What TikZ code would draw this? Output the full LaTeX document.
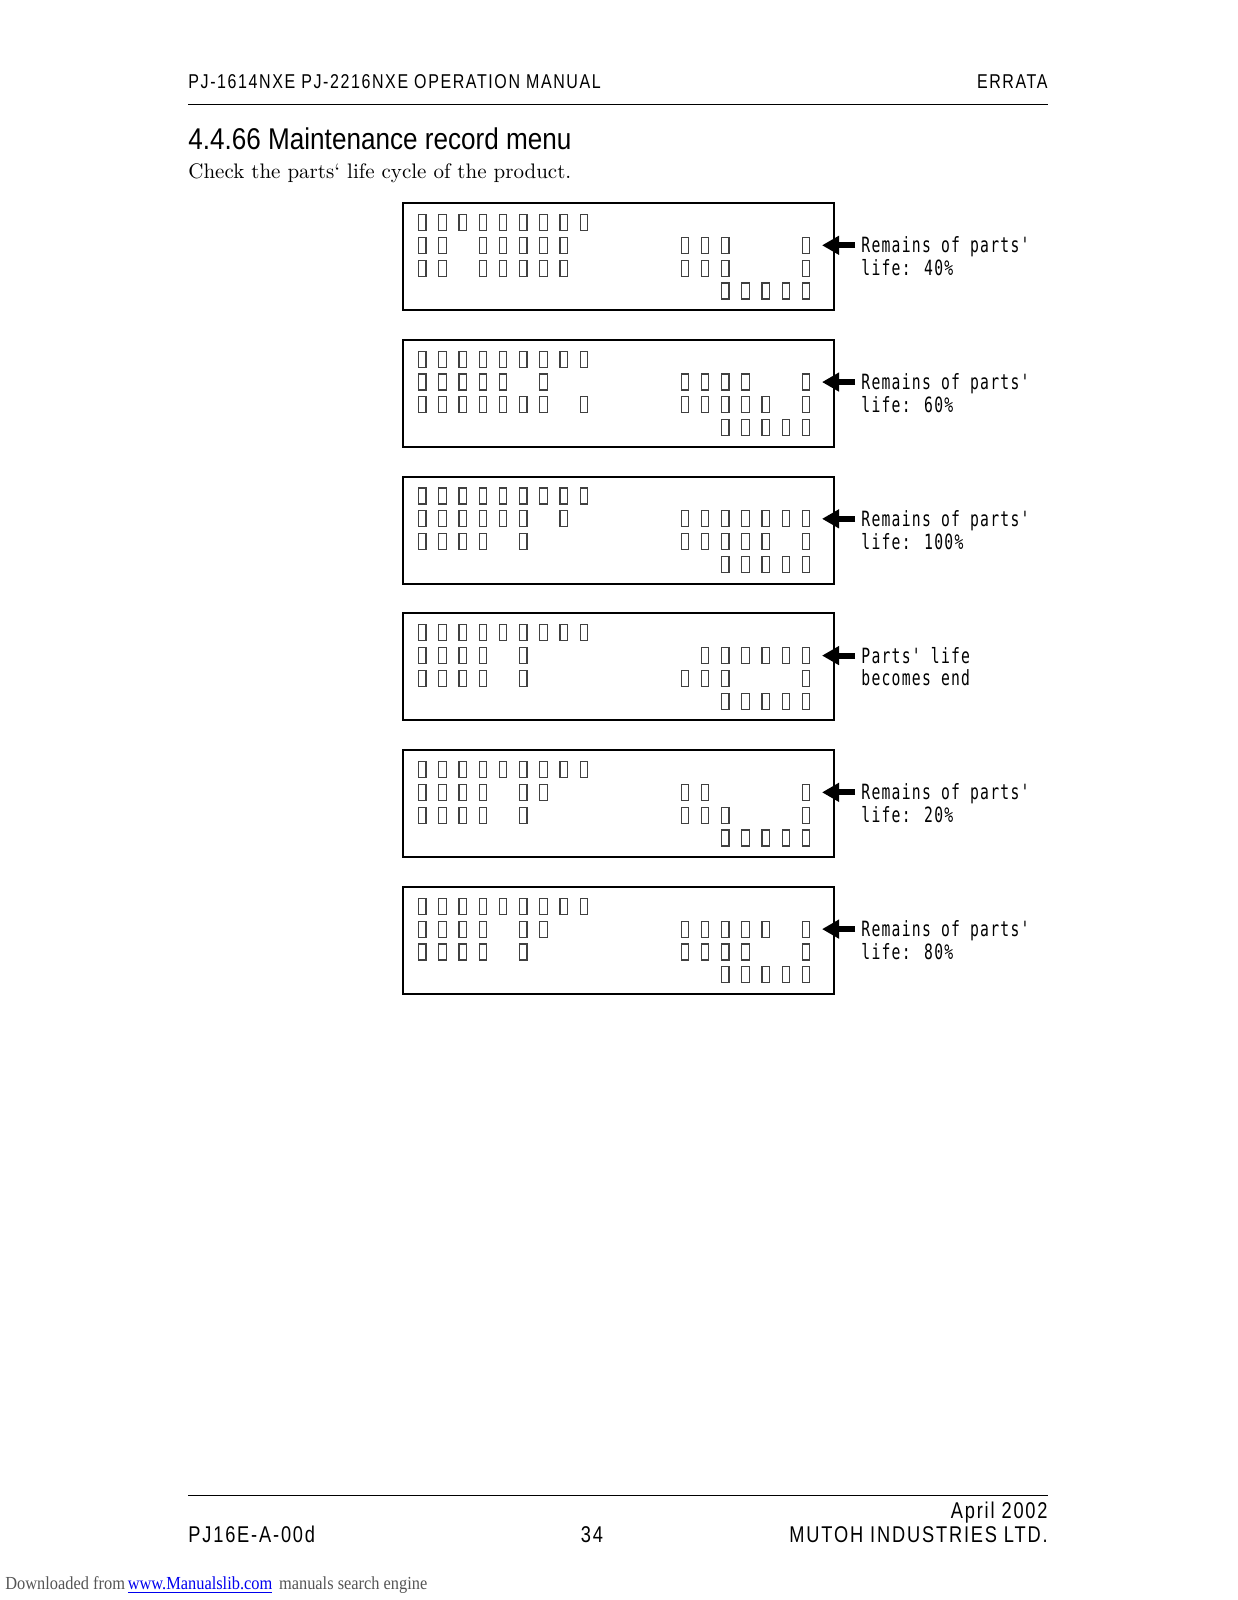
\documentclass[tikz,border=0pt]{standalone}
\usepackage{fontspec}
\usepackage{xcolor}
\usepackage{tikz}
\usetikzlibrary{positioning, arrows.meta, calc}
\newfontfamily\manfont[FakeStretch=0.8,LetterSpace=8]{Liberation Sans}
\newfontfamily\headfont[FakeStretch=0.87]{Liberation Sans}
\newfontfamily\lcdfont[FakeStretch=0.7,LetterSpace=6]{DejaVu Sans Mono}
\newfontfamily\dlfont[FakeStretch=0.89]{Liberation Serif}
\definecolor{linkBlue}{HTML}{0000EE}
\definecolor{dlGray}{HTML}{555555}
% one row of an LCD screen: #1 screen, #2 row, #3 columns holding a glyph
\newcommand{\lcdrow}[3]{%
  \foreach \c in {#3}
    \draw[cell] ($(scr#1.north west)+({16.5+20.2*\c},{12.5+22.8*#2})$) rectangle +(7.5,16);}

\begin{document}
\begin{tikzpicture}[x=0.5pt, y=-0.5pt,
    hdr/.style={font=\manfont\fontsize{10}{12}\selectfont, inner sep=0pt, anchor=base west},
    ftr/.style={font=\manfont\fontsize{11.4}{13}\selectfont, inner sep=0pt, anchor=base west},
    sect/.style={font=\headfont\fontsize{15}{18}\selectfont, inner sep=0pt, anchor=base west},
    body/.style={font=\fontsize{10.5}{12.5}\selectfont, inner sep=0pt, anchor=base west},
    dl/.style={font=\dlfont\fontsize{9.2}{11}\selectfont, inner sep=0pt, text=dlGray},
    screen/.style={draw, line width=1pt, minimum width=215.5pt, minimum height=53.5pt,
      inner sep=0pt, anchor=north west},
    cell/.style={draw=black!75, line width=0.6pt},
    lbl/.style={font=\lcdfont\fontsize{10.5}{12}\selectfont, inner xsep=3pt, inner ysep=0pt,
      text height=8pt, text depth=0.5pt, anchor=west},
    pointer/.style={-{Triangle[length=8.5pt, width=9pt]}, line width=3pt},
    rule/.style={line width=0.5pt}]
    \useasboundingbox (0,0) rectangle (1237,1600);
    \def\lx{188} \def\rx{1048}
    % --- page head ---
    \node[hdr] (manual) at (\lx,88.5) {PJ-1614NXE PJ-2216NXE OPERATION MANUAL};
    \node[hdr, anchor=base east] (errata) at (\rx,88.5) {ERRATA};
    \draw[rule] (\lx,105) -- (\rx,105);
    \node[sect] (title) at (\lx,149) {4.4.66 Maintenance record menu};
    \node[body] (intro) at (\lx,178) {Check the parts\textquoteleft\ life cycle of the product.};
    % --- screens ---
    \foreach \i in {1,...,6}
      \node[screen] (scr\i) at (402,{202+136.76*(\i-1)}) {};
    % --- rows shown on every screen ---
    \foreach \i in {1,...,6} {
      \lcdrow{\i}{0}{0,1,2,3,4,5,6,7,8}
      \lcdrow{\i}{3}{15,16,17,18,19}
    }
    % --- rows that differ ---
    \lcdrow{1}{1}{0,1,3,4,5,6,7,13,14,15,19}
    \lcdrow{1}{2}{0,1,3,4,5,6,7,13,14,15,19}
    \lcdrow{2}{1}{0,1,2,3,4,6,13,14,15,16,19}
    \lcdrow{2}{2}{0,1,2,3,4,5,6,8,13,14,15,16,17,19}
    \lcdrow{3}{1}{0,1,2,3,4,5,7,13,14,15,16,17,18,19}
    \lcdrow{3}{2}{0,1,2,3,5,13,14,15,16,17,19}
    \lcdrow{4}{1}{0,1,2,3,5,14,15,16,17,18,19}
    \lcdrow{4}{2}{0,1,2,3,5,13,14,15,19}
    \lcdrow{5}{1}{0,1,2,3,5,6,13,14,19}
    \lcdrow{5}{2}{0,1,2,3,5,13,14,15,19}
    \lcdrow{6}{1}{0,1,2,3,5,6,13,14,15,16,17,19}
    \lcdrow{6}{2}{0,1,2,3,5,13,14,15,16,19}
    % --- callouts ---
    \foreach \i/\ta/\tb in {1/Remains of parts'/life: 40\%, 2/Remains of parts'/life: 60\%,
        3/Remains of parts'/life: 100\%, 4/Parts' life/becomes end,
        5/Remains of parts'/life: 20\%, 6/Remains of parts'/life: 80\%} {
      \node[lbl] (rem\i) at ($(scr\i.north east)+(20,43.3)$) {\ta};
      \node[lbl] (life\i) at ($(scr\i.north east)+(20,66.1)$) {\tb};
      \coordinate (tip\i) at ($(scr\i.east |- rem\i.west)+(-13,0)$);
      \draw[pointer] (rem\i.west) -- (tip\i);
    }
    % --- page foot ---
    \draw[rule] (\lx,1495) -- (\rx,1495);
    \node[ftr, anchor=base east] (date) at (\rx,1518.5) {April 2002};
    \node[ftr] (docno) at (\lx,1542) {PJ16E-A-00d};
    \node[ftr, anchor=base] (page) at (592,1542) {34};
    \node[ftr, anchor=base east] (maker) at (\rx,1542) {MUTOH INDUSTRIES LTD.};
    \node[dl, anchor=base west] (dl) at (5,1589) {Downloaded from};
    \node[dl, text=linkBlue, base right=1pt of dl] (link) {\underline{www.Manualslib.com}};
    \node[dl, base right=3pt of link] (engine) {manuals search engine};
\end{tikzpicture}
\end{document}
